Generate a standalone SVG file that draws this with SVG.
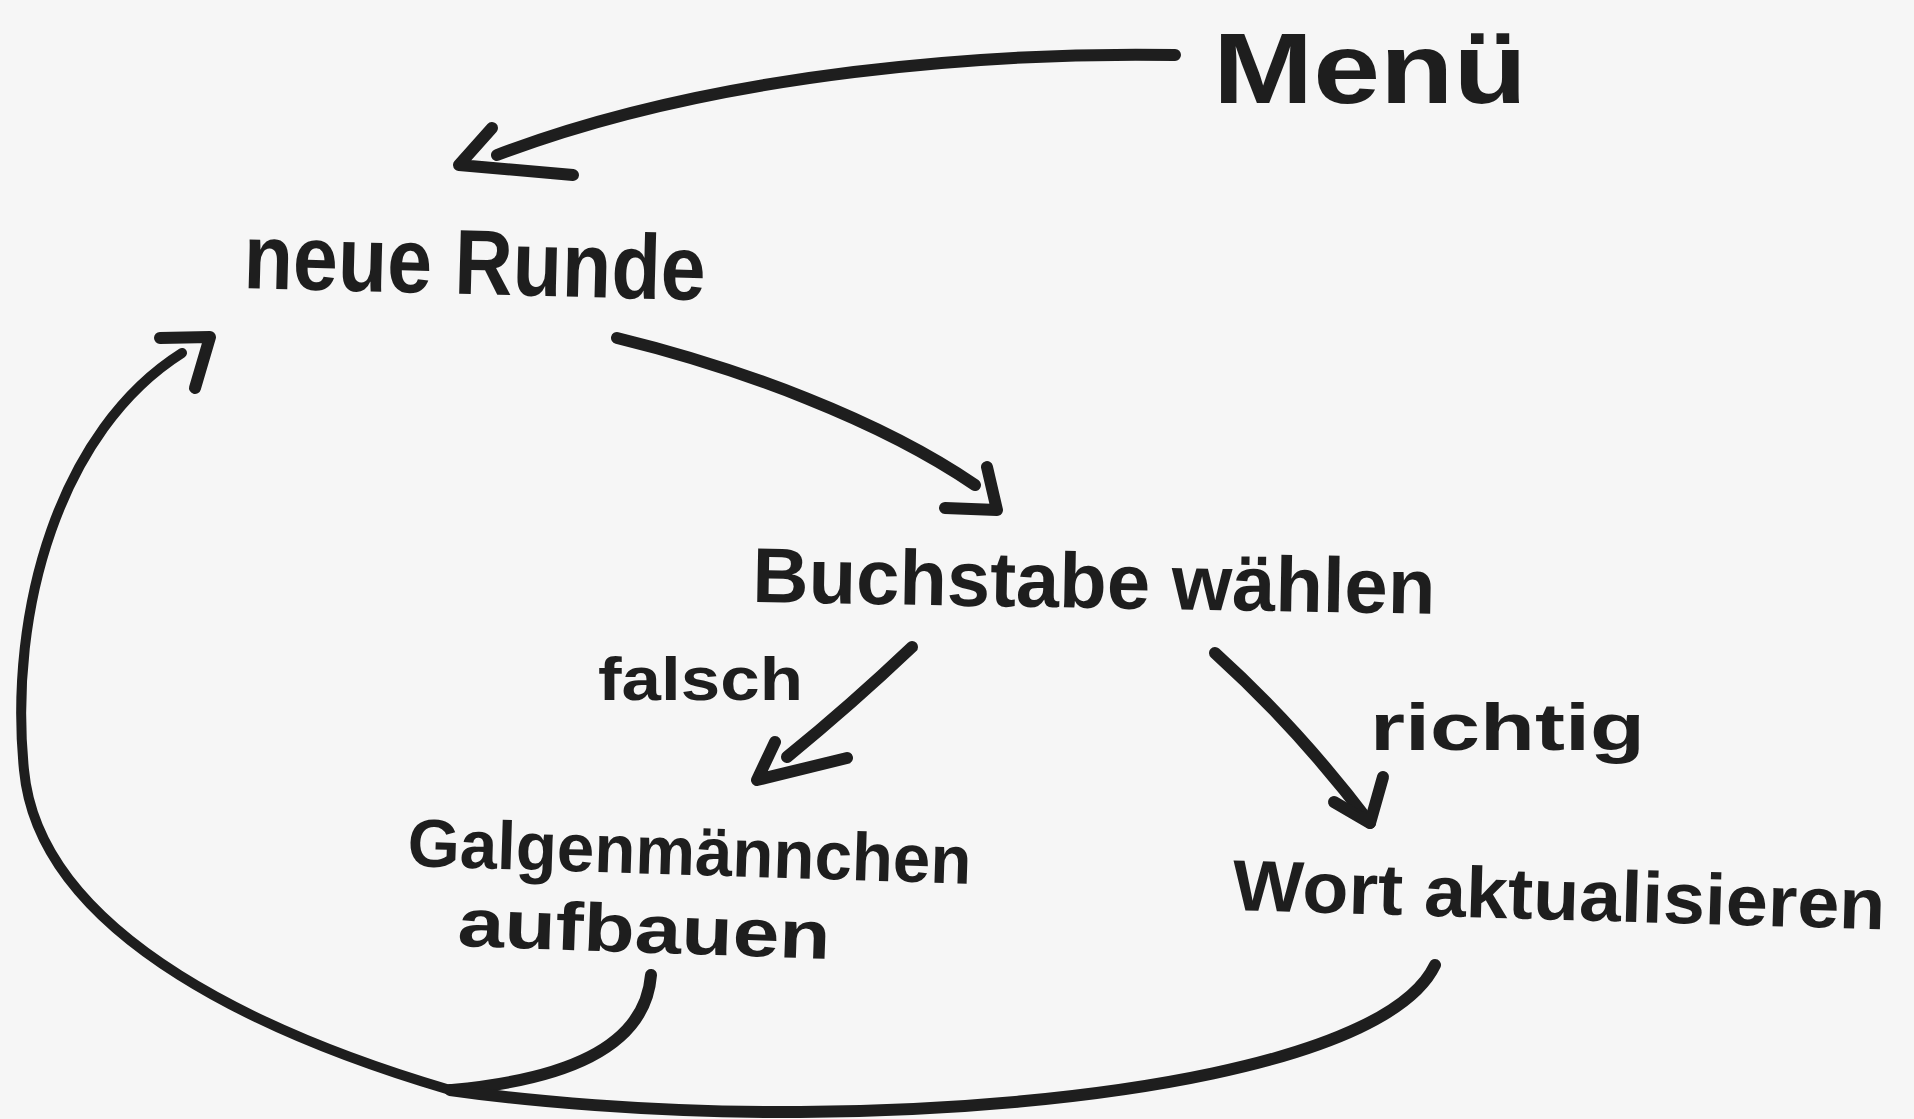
<svg xmlns="http://www.w3.org/2000/svg" width="1914" height="1119" viewBox="0 0 1914 1119">
  <style>
    .ink { fill: none; stroke: #1e1e1e; stroke-linecap: round; stroke-linejoin: round; }
    .pen { stroke-width: 12; }
    .thin { stroke-width: 10; }
    .label { font-family: "Liberation Sans", Arial, sans-serif; font-weight: bold; fill: #1e1e1e; }
  </style>
  <rect x="0" y="0" width="1914" height="1119" fill="#f6f6f6"/>

  <!-- connectors -->
  <g id="connectors">
    <!-- Menü -> neue Runde -->
    <path class="ink pen" d="M1175,55 C1000,52 720,70 497,155"/>
    <polyline class="ink pen" points="492,128 459,165 573,175"/>
    <!-- neue Runde -> Buchstabe wählen -->
    <path class="ink pen" d="M617,338 C740,368 880,420 975,485"/>
    <polyline class="ink pen" points="987,467 997,510 945,508"/>
    <!-- falsch -->
    <path class="ink pen" d="M912,647 Q852,704 787,757"/>
    <polyline class="ink pen" points="775,742 757,780 847,758"/>
    <!-- richtig -->
    <path class="ink pen" d="M1215,653 Q1298,728 1370,823"/>
    <polyline class="ink pen" points="1334,802 1370,823 1383,777"/>
    <!-- Galgenmännchen aufbauen -> join -->
    <path class="ink pen" d="M651,975 C645,1050 560,1080 452,1090"/>
    <!-- Wort aktualisieren -> join -->
    <path class="ink pen" d="M1435,965 C1390,1060 1100,1110 800,1112 C650,1113 520,1100 450,1090"/>
    <!-- join -> neue Runde -->
    <path class="ink thin" d="M450,1090 C280,1040 40,940 24,770 C8,610 60,430 182,353"/>
    <polyline class="ink pen" points="160,338 210,337 195,388"/>
  </g>

  <g id="node-menu">
    <text class="label" x="1213" y="103" font-size="100" textLength="314" lengthAdjust="spacingAndGlyphs">Menü</text>
  </g>
  <g id="node-neue-runde">
    <text class="label" x="243" y="288" font-size="92" textLength="462" lengthAdjust="spacingAndGlyphs" transform="rotate(1.5 243 288)">neue Runde</text>
  </g>
  <g id="node-buchstabe">
    <text class="label" x="752" y="602" font-size="78" textLength="683" lengthAdjust="spacingAndGlyphs" transform="rotate(1 752 602)">Buchstabe wählen</text>
  </g>
  <g id="label-falsch">
    <text class="label" x="598" y="700" font-size="62" textLength="205" lengthAdjust="spacingAndGlyphs">falsch</text>
  </g>
  <g id="label-richtig">
    <text class="label" x="1370" y="750" font-size="66" textLength="275" lengthAdjust="spacingAndGlyphs">richtig</text>
  </g>
  <g id="node-galgen">
    <text class="label" x="407" y="866" font-size="68" textLength="564" lengthAdjust="spacingAndGlyphs" transform="rotate(1.8 407 866)">Galgenmännchen</text>
    <text class="label" x="457" y="946" font-size="68" textLength="373" lengthAdjust="spacingAndGlyphs" transform="rotate(2 457 946)">aufbauen</text>
  </g>
  <g id="node-wort">
    <text class="label" x="1232" y="910" font-size="72" textLength="653" lengthAdjust="spacingAndGlyphs" transform="rotate(1.7 1232 910)">Wort aktualisieren</text>
  </g>
</svg>
